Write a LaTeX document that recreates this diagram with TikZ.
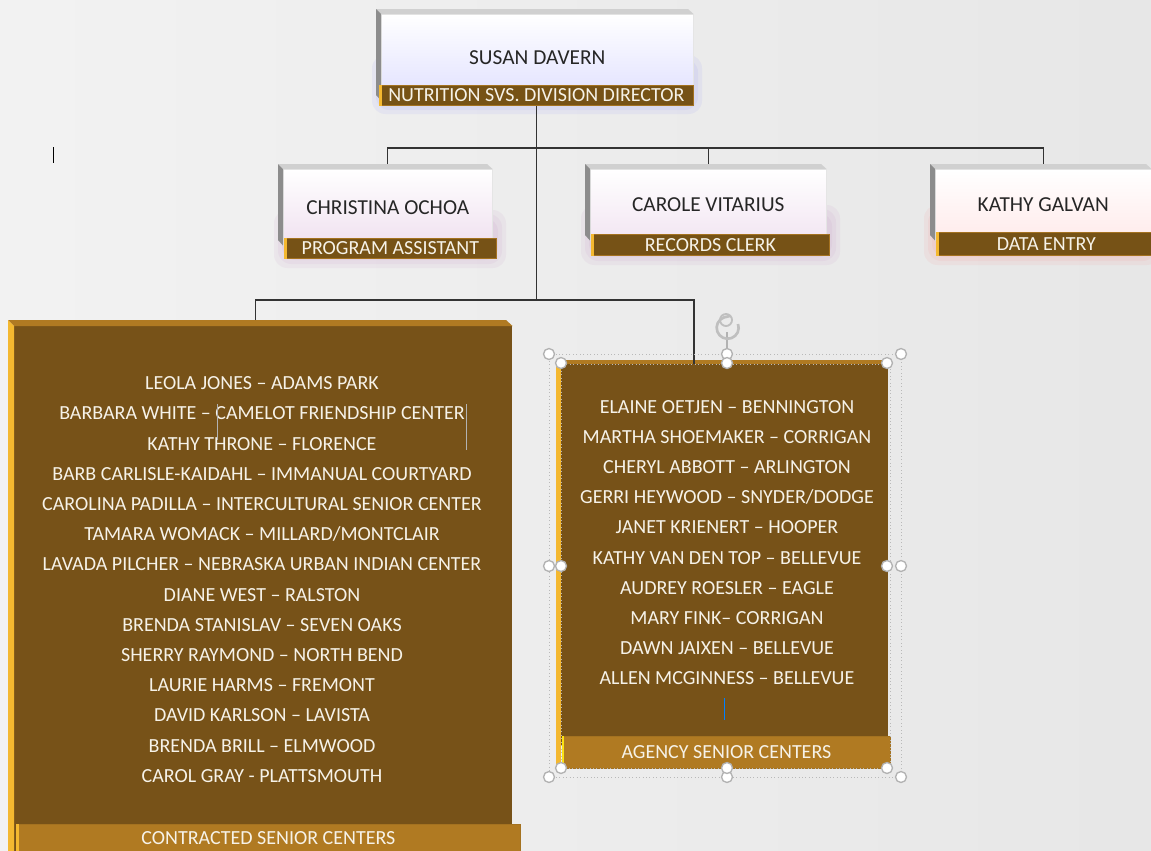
\documentclass[tikz,border=0pt]{standalone}
\usepackage{fontspec}
\setmainfont{Carlito}
\usetikzlibrary{arrows.meta}
\definecolor{barbrown}{RGB}{118,82,22}
\definecolor{boxbrown}{RGB}{119,82,24}
\definecolor{goldedge}{RGB}{244,184,48}
\definecolor{ochre}{RGB}{176,122,34}
\definecolor{bevelgrey}{RGB}{208,208,208}
\definecolor{sidegrey}{RGB}{140,140,140}
\definecolor{listwhite}{RGB}{246,242,232}
\tikzset{
	face/.style={anchor=north west, inner sep=0pt, draw=gray!20, top color=white, bottom color=#1, text=black!85, font=\fontsize{16}{19}\selectfont},
	titlebar/.style={anchor=north west, inner sep=0pt, fill=#1, draw=ochre!80!barbrown, line width=0.6pt, text=listwhite, font=\fontsize{15}{18}\selectfont},
	brownbox/.style={anchor=north west, inner sep=0pt, fill=boxbrown},
	namelist/.style={align=center, text=listwhite, font=\fontsize{15}{22.65}\selectfont},
	glow/.style={fill=#1, opacity=0.07, rounded corners=10pt},
	conn/.style={draw=black!80, line width=0.9pt},
	handle/.style={draw=gray!60, fill=white, line width=1pt},
	selbox/.style={draw=gray!55, dotted, line width=0.6pt}
}
\begin{document}
\begin{tikzpicture}[x=0.75pt, y=-0.75pt]
		\useasboundingbox (0,0) rectangle (1151,850);
		\shade[left color=gray!10, right color=gray!19] (0,0) rectangle (1151,850);
		\foreach \g in {0,4,8}{
			\fill[glow=blue!60] (372+\g,55+\g) rectangle (702-\g,114-\g);
			\fill[glow=violet!60] (274+\g,210+\g) rectangle (506-\g,268-\g);
			\fill[glow=violet!60] (581+\g,205+\g) rectangle (840-\g,265-\g);
			\fill[glow=red!60] (924+\g,205+\g) rectangle (1160-\g,265-\g);
		}
		\node[face={blue!12}, minimum width=234pt, minimum height=64.5pt] (davern) at (381,14) {SUSAN DAVERN};
		\fill[bevelgrey] (davern.north west) -- ++(-5,-5) -- ++(312,0) -- (davern.north east) -- cycle;
		\fill[sidegrey] (davern.north west) -- ++(-5,-5) -- ++(0,86) -- (davern.south west) -- cycle;
		\node[titlebar=barbrown, minimum width=235.5pt, minimum height=15pt] (dirbar) at (379,85) {NUTRITION SVS. DIVISION DIRECTOR};
		\fill[goldedge] (dirbar.north west) rectangle ([xshift=2.25pt]dirbar.south west);
		\node[face={violet!12}, minimum width=156.75pt, minimum height=57pt] (ochoa) at (283,169) {CHRISTINA OCHOA};
		\fill[bevelgrey] (ochoa.north west) -- ++(-5,-5) -- ++(209,0) -- (ochoa.north east) -- cycle;
		\fill[sidegrey] (ochoa.north west) -- ++(-5,-5) -- ++(0,76) -- (ochoa.south west) -- cycle;
		\node[titlebar=barbrown, minimum width=159pt, minimum height=15pt] (ochoabar) at (284,238) {PROGRAM ASSISTANT};
		\fill[goldedge] (ochoabar.north west) rectangle ([xshift=2.25pt]ochoabar.south west);
		\node[face={violet!10}, minimum width=177pt, minimum height=53.25pt] (vitarius) at (590,169) {CAROLE VITARIUS};
		\fill[bevelgrey] (vitarius.north west) -- ++(-5,-5) -- ++(236,0) -- (vitarius.north east) -- cycle;
		\fill[sidegrey] (vitarius.north west) -- ++(-5,-5) -- ++(0,71) -- (vitarius.south west) -- cycle;
		\node[titlebar=barbrown, minimum width=178.5pt, minimum height=15.75pt] (vitariusbar) at (591,234) {RECORDS CLERK};
		\fill[goldedge] (vitariusbar.north west) rectangle ([xshift=2.25pt]vitariusbar.south west);
		\node[face={red!8}, minimum width=162pt, minimum height=53.25pt] (galvan) at (935,169) {KATHY GALVAN};
		\fill[bevelgrey] (galvan.north west) -- ++(-5,-5) -- ++(216,0) -- (galvan.north east) -- cycle;
		\fill[sidegrey] (galvan.north west) -- ++(-5,-5) -- ++(0,71) -- (galvan.south west) -- cycle;
		\node[titlebar=barbrown, minimum width=165pt, minimum height=17.25pt] (galvanbar) at (936,232) {DATA ENTRY};
		\fill[goldedge] (galvanbar.north west) rectangle ([xshift=2.25pt]galvanbar.south west);
		\node[brownbox, minimum width=373.5pt, minimum height=397.5pt] (contracted) at (14,326) {};
		\fill[ochre] (contracted.north west) -- ++(-6,-6) -- ++(498,0) -- (contracted.north east) -- cycle;
		\fill[goldedge] (contracted.north west) -- ++(-6,-6) -- ++(0,540) -- (contracted.south west) -- cycle;
		\node[namelist] (contractedlist) at (262,579.5) {LEOLA JONES -- ADAMS PARK\\BARBARA WHITE -- CAMELOT FRIENDSHIP CENTER\\KATHY THRONE -- FLORENCE\\BARB CARLISLE-KAIDAHL -- IMMANUAL COURTYARD\\CAROLINA PADILLA -- INTERCULTURAL SENIOR CENTER\\TAMARA WOMACK -- MILLARD/MONTCLAIR\\LAVADA PILCHER -- NEBRASKA URBAN INDIAN CENTER\\DIANE WEST -- RALSTON\\BRENDA STANISLAV -- SEVEN OAKS\\SHERRY RAYMOND -- NORTH BEND\\LAURIE HARMS -- FREMONT\\DAVID KARLSON -- LAVISTA\\BRENDA BRILL -- ELMWOOD\\CAROL GRAY - PLATTSMOUTH};
		\node[titlebar=ochre, minimum width=378pt, minimum height=21pt] (contractedbar) at (16,824) {CONTRACTED SENIOR CENTERS};
		\fill[goldedge] (contractedbar.north west) rectangle ([xshift=2.25pt]contractedbar.south west);
		\node[brownbox, minimum width=245.25pt, minimum height=285.75pt] (agency) at (561,364) {};
		\fill[ochre] ([shift={(-5,-4)}]agency.north west) rectangle (agency.north east);
		\node[namelist] (agencylist) at (727,542.5) {ELAINE OETJEN -- BENNINGTON\\MARTHA SHOEMAKER -- CORRIGAN\\CHERYL ABBOTT -- ARLINGTON\\GERRI HEYWOOD -- SNYDER/DODGE\\JANET KRIENERT -- HOOPER\\KATHY VAN DEN TOP -- BELLEVUE\\AUDREY ROESLER -- EAGLE\\MARY FINK-- CORRIGAN\\DAWN JAIXEN -- BELLEVUE\\ALLEN MCGINNESS -- BELLEVUE};
		\node[titlebar=ochre, minimum width=246pt, minimum height=24pt] (agencybar) at (562,736) {AGENCY SENIOR CENTERS};
		\fill[goldedge] ([shift={(-5,-4)}]agency.north west) rectangle (agency.north west |- agencybar.south);
		\fill[yellow!70!goldedge] (agencybar.north west) rectangle ([xshift=1.5pt]agencybar.south west);
		\coordinate (busA) at (537,148);
		\coordinate (busB) at (694,300);
		\draw[conn] (dirbar.south) -- (dirbar.south |- busB);
		\draw[conn] (ochoa.north) ++(0,-5) -- (ochoa.north |- busA) -- (galvan.north |- busA) -- ++(0,16);
		\draw[conn] (vitarius.north) ++(0,-5) -- (vitarius.north |- busA);
		\draw[conn] (contracted.north) ++(-8,-6) |- (busB) -- (busB |- agency.north);
		\draw[selbox] (549,354) rectangle (901,777);
		\draw[selbox] (agency.north west) rectangle (agencybar.south east);
		\draw[gray!60, line width=1pt] (727,332) -- (727,355);
		\draw[gray!50, line width=2pt, -{Stealth[length=4pt]}] (738,324) arc (-20:290:11);
		\draw[gray!50, line width=1.4pt] (726,320) circle (6);
		\foreach \hx/\hy in {549/354,727/354,901/354,549/566,901/566,549/777,727/777,901/777,561/363,727/363,887/363,561/566,887/566,561/768,727/768,887/768}
			\draw[handle] (\hx,\hy) circle (5.5);
		\draw[black, line width=0.6pt] (53,147) -- (53,163);
		\draw[gray!60, line width=0.5pt] (217,404) -- (217,440);
		\draw[gray!60, line width=0.5pt] (466,404) -- (466,450);
		\draw[blue!50!cyan, line width=0.6pt] (724,698) -- (724,720);
		\end{tikzpicture}
\end{document}
